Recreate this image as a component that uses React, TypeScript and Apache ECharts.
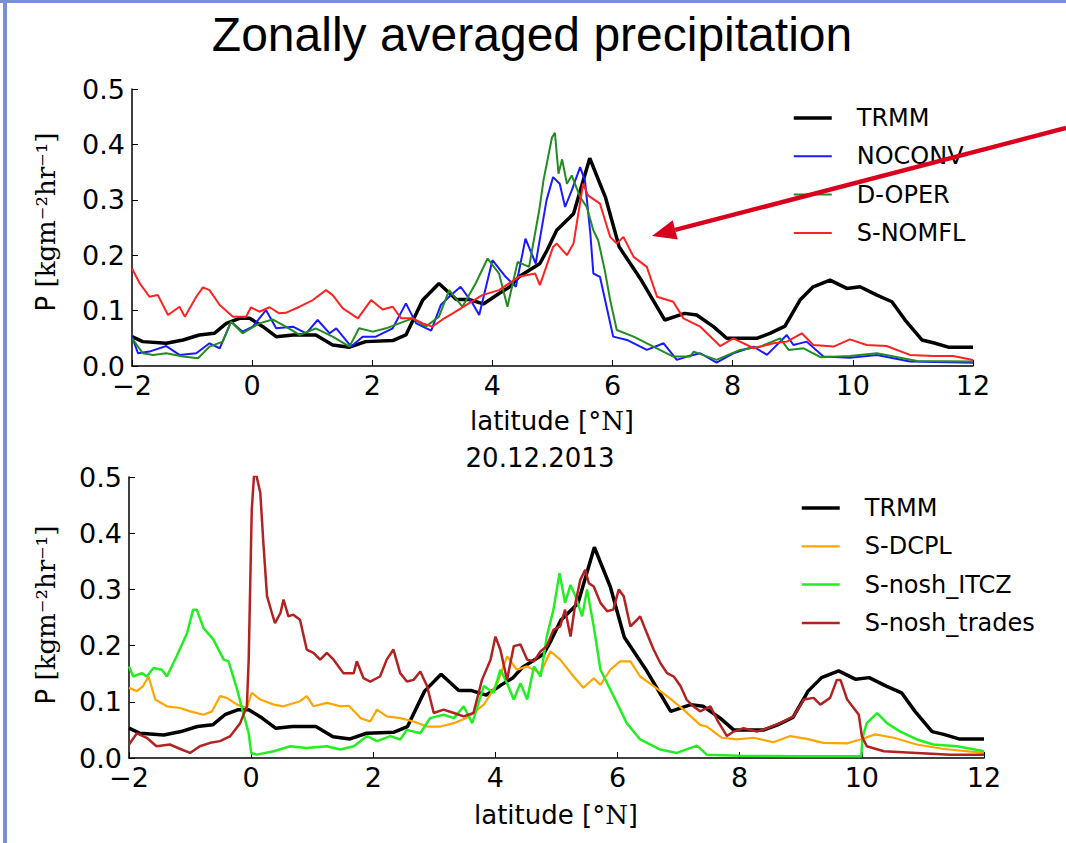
import React, { useEffect, useRef } from "react";
import * as echarts from "echarts";

const xTicks = [-2, 0, 2, 4, 6, 8, 10, 12];
const yTicks = [0, 0.1, 0.2, 0.3, 0.4, 0.5];

const trmm: number[][] = [[-2,0.053],[-1.82,0.044],[-1.43,0.041],[-1.15,0.047],[-0.88,0.056],[-0.63,0.059],[-0.43,0.077],[-0.21,0.086],[-0.04,0.086],[0.18,0.071],[0.4,0.053],[0.68,0.056],[1.06,0.056],[1.34,0.038],[1.62,0.034],[1.89,0.044],[2.34,0.046],[2.56,0.056],[2.84,0.119],[3.11,0.149],[3.4,0.12],[3.61,0.12],[3.85,0.112],[4.11,0.131],[4.29,0.143],[4.44,0.161],[4.66,0.176],[4.79,0.185],[4.91,0.209],[5.07,0.245],[5.35,0.275],[5.62,0.375],[5.88,0.305],[6.11,0.215],[6.46,0.158],[6.87,0.083],[7.2,0.095],[7.4,0.092],[7.68,0.071],[7.9,0.05],[8.4,0.05],[8.62,0.059],[8.87,0.072],[9.12,0.119],[9.34,0.143],[9.62,0.155],[9.9,0.14],[10.12,0.143],[10.4,0.128],[10.65,0.116],[10.87,0.083],[11.15,0.047],[11.34,0.042],[11.59,0.034],[12,0.034]];

const noconv: number[][] = [[-2,0.053],[-1.9,0.023],[-1.71,0.026],[-1.43,0.036],[-1.21,0.02],[-0.93,0.023],[-0.71,0.041],[-0.54,0.032],[-0.35,0.08],[-0.16,0.062],[0.01,0.071],[0.23,0.101],[0.4,0.068],[0.68,0.071],[0.9,0.059],[1.09,0.083],[1.29,0.059],[1.4,0.068],[1.65,0.035],[1.84,0.053],[2.06,0.053],[2.34,0.068],[2.56,0.113],[2.73,0.077],[2.98,0.064],[3.14,0.11],[3.28,0.125],[3.47,0.143],[3.67,0.113],[3.78,0.092],[4.0,0.191],[4.22,0.161],[4.39,0.143],[4.55,0.23],[4.72,0.185],[4.9,0.299],[5.01,0.341],[5.12,0.329],[5.21,0.287],[5.32,0.317],[5.46,0.359],[5.54,0.335],[5.63,0.239],[5.68,0.167],[5.79,0.161],[5.9,0.107],[6.01,0.053],[6.24,0.047],[6.57,0.029],[6.85,0.041],[7.07,0.011],[7.24,0.017],[7.46,0.023],[7.73,0.006],[8.01,0.023],[8.35,0.035],[8.57,0.02],[8.9,0.056],[9.01,0.038],[9.23,0.044],[9.51,0.017],[9.95,0.015],[10.4,0.02],[10.95,0.008],[12,0.006]];

const doper: number[][] = [[-2,0.05],[-1.82,0.023],[-1.65,0.02],[-1.43,0.023],[-1.15,0.017],[-0.9,0.014],[-0.71,0.035],[-0.49,0.044],[-0.35,0.08],[-0.16,0.059],[0.12,0.077],[0.34,0.084],[0.56,0.071],[0.79,0.056],[1.06,0.068],[1.34,0.053],[1.62,0.035],[1.78,0.068],[2.01,0.062],[2.23,0.068],[2.45,0.077],[2.67,0.086],[2.89,0.071],[3.11,0.089],[3.28,0.137],[3.5,0.107],[3.72,0.149],[3.92,0.194],[4.11,0.167],[4.25,0.107],[4.42,0.188],[4.61,0.179],[4.78,0.282],[4.85,0.335],[4.99,0.412],[5.04,0.421],[5.1,0.347],[5.16,0.373],[5.24,0.329],[5.32,0.344],[5.46,0.305],[5.57,0.287],[5.68,0.245],[5.76,0.227],[5.87,0.173],[5.96,0.119],[6.07,0.065],[6.35,0.053],[6.68,0.035],[7.01,0.017],[7.29,0.017],[7.35,0.026],[7.73,0.011],[8.12,0.029],[8.46,0.035],[8.79,0.05],[8.93,0.029],[9.18,0.032],[9.46,0.016],[9.95,0.018],[10.4,0.023],[11.07,0.009],[12,0.008]];

const snomfl: number[][] = [[-2,0.176],[-1.87,0.149],[-1.71,0.125],[-1.57,0.128],[-1.4,0.092],[-1.21,0.107],[-1.12,0.089],[-0.93,0.125],[-0.82,0.142],[-0.71,0.137],[-0.54,0.11],[-0.32,0.089],[-0.1,0.089],[-0.02,0.106],[0.12,0.098],[0.29,0.106],[0.45,0.095],[0.56,0.096],[0.79,0.107],[1.01,0.119],[1.23,0.137],[1.34,0.128],[1.51,0.104],[1.76,0.086],[1.98,0.119],[2.17,0.102],[2.34,0.107],[2.48,0.086],[2.67,0.086],[2.84,0.077],[3.0,0.071],[3.17,0.084],[3.34,0.095],[3.56,0.11],[3.83,0.128],[4.11,0.137],[4.44,0.161],[4.71,0.167],[4.79,0.146],[5.01,0.215],[5.07,0.221],[5.24,0.2],[5.35,0.221],[5.51,0.329],[5.59,0.308],[5.79,0.293],[5.96,0.233],[6.07,0.221],[6.18,0.233],[6.35,0.197],[6.57,0.179],[6.74,0.125],[7.01,0.116],[7.18,0.086],[7.46,0.071],[7.79,0.036],[8.01,0.05],[8.35,0.032],[8.68,0.041],[8.9,0.044],[9.15,0.059],[9.34,0.038],[9.68,0.035],[9.95,0.048],[10.23,0.038],[10.56,0.036],[10.95,0.02],[11.34,0.018],[11.67,0.018],[12,0.011]];

const sdcpl: number[][] = [[-2,0.125],[-1.87,0.119],[-1.77,0.128],[-1.68,0.145],[-1.57,0.104],[-1.38,0.092],[-1.16,0.089],[-1.0,0.083],[-0.78,0.077],[-0.64,0.083],[-0.51,0.11],[-0.4,0.107],[-0.23,0.095],[-0.07,0.089],[0.01,0.116],[0.15,0.104],[0.37,0.095],[0.53,0.092],[0.8,0.101],[0.91,0.11],[1.02,0.092],[1.24,0.098],[1.46,0.092],[1.6,0.093],[1.79,0.071],[1.95,0.065],[2.06,0.086],[2.22,0.074],[2.44,0.071],[2.66,0.065],[2.88,0.056],[3.1,0.056],[3.32,0.062],[3.54,0.072],[3.81,0.095],[4.03,0.133],[4.19,0.181],[4.35,0.157],[4.52,0.163],[4.74,0.151],[4.9,0.19],[5.06,0.175],[5.28,0.145],[5.44,0.125],[5.61,0.142],[5.72,0.13],[5.88,0.157],[6.04,0.172],[6.21,0.172],[6.37,0.145],[6.59,0.128],[6.81,0.11],[7.08,0.086],[7.35,0.059],[7.46,0.056],[7.71,0.036],[7.95,0.033],[8.23,0.036],[8.55,0.028],[8.83,0.039],[9.1,0.034],[9.37,0.027],[9.76,0.026],[9.97,0.033],[10.22,0.042],[10.52,0.036],[10.9,0.024],[11.34,0.016],[12,0.009]];

const noshItcz: number[][] = [[-2,0.163],[-1.93,0.145],[-1.79,0.151],[-1.71,0.145],[-1.6,0.16],[-1.46,0.157],[-1.38,0.145],[-1.22,0.181],[-1.05,0.222],[-0.95,0.264],[-0.89,0.264],[-0.78,0.231],[-0.62,0.211],[-0.45,0.175],[-0.37,0.172],[-0.23,0.122],[-0.13,0.08],[-0.04,0.044],[0.0,0.009],[0.09,0.006],[0.37,0.012],[0.64,0.021],[0.91,0.018],[1.24,0.021],[1.46,0.015],[1.68,0.021],[1.9,0.039],[2.06,0.03],[2.28,0.039],[2.44,0.033],[2.55,0.05],[2.77,0.044],[2.93,0.071],[3.15,0.077],[3.32,0.071],[3.48,0.092],[3.62,0.062],[3.81,0.128],[3.97,0.116],[4.08,0.157],[4.19,0.133],[4.3,0.104],[4.41,0.133],[4.52,0.104],[4.63,0.163],[4.74,0.145],[4.84,0.216],[4.95,0.264],[5.05,0.329],[5.14,0.276],[5.23,0.308],[5.31,0.288],[5.42,0.252],[5.5,0.3],[5.61,0.234],[5.72,0.157],[5.83,0.133],[5.99,0.098],[6.15,0.062],[6.37,0.033],[6.7,0.015],[6.97,0.009],[7.3,0.022],[7.46,0.006],[8.0,0.004],[9.0,0.003],[9.99,0.003],[10.01,0.036],[10.08,0.062],[10.25,0.08],[10.41,0.062],[10.63,0.047],[10.9,0.033],[11.17,0.024],[11.56,0.021],[12,0.012]];

const noshTrades: number[][] = [[-2,0.024],[-1.87,0.044],[-1.71,0.036],[-1.55,0.021],[-1.33,0.024],[-1.16,0.016],[-1.0,0.009],[-0.84,0.021],[-0.67,0.027],[-0.51,0.03],[-0.34,0.039],[-0.18,0.062],[-0.07,0.092],[-0.04,0.175],[0.01,0.442],[0.05,0.507],[0.09,0.501],[0.15,0.472],[0.2,0.383],[0.26,0.288],[0.34,0.258],[0.39,0.24],[0.48,0.258],[0.53,0.282],[0.61,0.252],[0.69,0.255],[0.8,0.246],[0.91,0.193],[1.02,0.187],[1.13,0.175],[1.24,0.187],[1.35,0.175],[1.51,0.151],[1.68,0.151],[1.73,0.172],[1.84,0.142],[1.95,0.136],[2.11,0.145],[2.22,0.175],[2.33,0.193],[2.44,0.151],[2.55,0.136],[2.66,0.139],[2.77,0.154],[2.88,0.128],[2.99,0.08],[3.15,0.086],[3.32,0.08],[3.48,0.074],[3.64,0.08],[3.78,0.139],[3.92,0.175],[4.0,0.216],[4.08,0.193],[4.19,0.139],[4.3,0.199],[4.41,0.202],[4.52,0.175],[4.63,0.172],[4.74,0.19],[4.84,0.199],[4.95,0.228],[5.06,0.234],[5.14,0.264],[5.23,0.216],[5.31,0.276],[5.39,0.317],[5.47,0.335],[5.53,0.311],[5.61,0.305],[5.72,0.276],[5.83,0.261],[5.93,0.264],[6.02,0.3],[6.1,0.288],[6.21,0.234],[6.32,0.246],[6.37,0.252],[6.48,0.222],[6.59,0.193],[6.7,0.169],[6.81,0.151],[6.92,0.145],[7.03,0.128],[7.13,0.104],[7.24,0.092],[7.35,0.083],[7.52,0.092],[7.63,0.068],[7.79,0.039],[7.9,0.047],[8.06,0.053],[8.28,0.047],[8.45,0.053],[8.66,0.062],[8.88,0.074],[9.05,0.104],[9.21,0.107],[9.32,0.095],[9.48,0.107],[9.59,0.139],[9.65,0.139],[9.76,0.104],[9.95,0.077],[10.0,0.039],[10.08,0.021],[10.36,0.012],[10.9,0.009],[11.45,0.006],[12,0.006]];

const topNames = ["TRMM", "NOCONV", "D-OPER", "S-NOMFL"];
const bottomNames = ["TRMM", "S-DCPL", "S-nosh_ITCZ", "S-nosh_trades"];

const SANS = "DejaVu Sans";

function makeX(gridIndex: number) {
  return {
    type: "value", gridIndex, min: xTicks[0], max: xTicks[xTicks.length - 1], interval: 2,
    axisLine: { show: true, onZero: false, lineStyle: { color: "#000", width: 1.5 } },
    axisTick: { show: true, inside: true, length: 6, lineStyle: { color: "#000", width: 1 } },
    axisLabel: { color: "#000", fontSize: 27, fontFamily: SANS, margin: 6,
      formatter: (v: number) => (v < 0 ? "\u2212" + Math.abs(v) : String(v)) },
    splitLine: { show: false },
  };
}
function makeY(gridIndex: number) {
  return {
    type: "value", gridIndex, min: yTicks[0], max: yTicks[yTicks.length - 1], interval: 0.1,
    axisLine: { show: true, onZero: false, lineStyle: { color: "#000", width: 1.5 } },
    axisTick: { show: true, inside: true, length: 6, lineStyle: { color: "#000", width: 1 } },
    axisLabel: { color: "#000", fontSize: 27, fontFamily: SANS, margin: 7,
      formatter: (v: number) => v.toFixed(1) },
    splitLine: { show: false },
  };
}
function line(name: string, data: number[][], color: string, width: number, idx: number) {
  return {
    type: "line", name, data, xAxisIndex: idx, yAxisIndex: idx, symbol: "none",
    lineStyle: { color, width }, itemStyle: { color }, z: 2,
  };
}

function legend(names: string[], left: number, top: number) {
  return {
    data: names, left, top, orient: "vertical", itemWidth: 38, itemHeight: 14, itemGap: 14.3,
    padding: 0, selectedMode: false,
    itemStyle: { opacity: 0, borderWidth: 0 },
    lineStyle: { width: "inherit" },
    textStyle: { fontSize: 24, fontFamily: SANS, color: "#000", lineHeight: 24, padding: [0, 0, 0, 20] },
  };
}

const yLabelText = "{a|P }{b|[kgm\u207B\u00B2hr\u207B\u00B9]}";
const yLabelRich = { a: { fontFamily: SANS, fontSize: 26, fill: "#000" }, b: { fontFamily: "DejaVu Serif", fontSize: 26, fill: "#000" } };
const xLabelText = "{a|latitude [}{b|\u00B0N}{a|]}";
const xLabelRich = { a: { fontFamily: SANS, fontSize: 26, fill: "#000" }, b: { fontFamily: "DejaVu Serif", fontSize: 26, fill: "#000" } };

export default function App() {
  const ref = useRef<HTMLDivElement>(null);
  useEffect(() => {
    if (!ref.current) return;
    const chart = echarts.init(ref.current, null, { renderer: "svg" });
    const arrowTip = [652, 236];
    const arrowStart = [1066, 128];
    const dx = arrowStart[0] - arrowTip[0], dy = arrowStart[1] - arrowTip[1];
    const L = Math.hypot(dx, dy), ux = dx / L, uy = dy / L;
    const hl = 24, hw = 10;
    const bx = arrowTip[0] + ux * hl, by = arrowTip[1] + uy * hl;
    chart.setOption({
      animation: false,
      backgroundColor: "#fff",
      grid: [
        { left: 132, top: 89, width: 841, height: 277 },
        { left: 129, top: 477, width: 855, height: 281 },
      ],
      xAxis: [makeX(0), makeX(1)],
      yAxis: [makeY(0), makeY(1)],
      legend: [legend(topNames, 792, 106), legend(bottomNames, 800, 496)],
      series: [
        line("TRMM", trmm, "#000000", 3.5, 0),
        line("NOCONV", noconv, "#1a1aff", 2, 0),
        line("D-OPER", doper, "#228b22", 2, 0),
        line("S-NOMFL", snomfl, "#ff2222", 2, 0),
        line("TRMM", trmm, "#000000", 3.5, 1),
        line("S-DCPL", sdcpl, "#ffa500", 2.2, 1),
        line("S-nosh_ITCZ", noshItcz, "#22ee22", 2.5, 1),
        line("S-nosh_trades", noshTrades, "#b22222", 2.5, 1),
      ],
      graphic: [
        { type: "rect", shape: { x: 0, y: 0, width: 1066, height: 3 }, style: { fill: "#7b8fd9" } },
        { type: "rect", shape: { x: 3, y: 0, width: 4, height: 843 }, style: { fill: "#7b8fd9" } },
        { type: "text", x: 532, y: 34, style: { text: "Zonally averaged precipitation", font: "48px 'Liberation Sans', Arial, sans-serif", fill: "#000", align: "center", verticalAlign: "middle" } },
        { type: "text", x: 46, y: 222, rotation: Math.PI / 2,
          style: { text: yLabelText, align: "center", verticalAlign: "middle", rich: yLabelRich } },
        { type: "text", x: 46, y: 615, rotation: Math.PI / 2,
          style: { text: yLabelText, align: "center", verticalAlign: "middle", rich: yLabelRich } },
        { type: "text", x: 552, y: 421,
          style: { text: xLabelText, align: "center", verticalAlign: "middle", rich: xLabelRich } },
        { type: "text", x: 556, y: 815,
          style: { text: xLabelText, align: "center", verticalAlign: "middle", rich: xLabelRich } },
        { type: "text", x: 540, y: 458, style: { text: "20.12.2013", font: "26px 'DejaVu Sans'", fill: "#000", align: "center", verticalAlign: "middle" } },
        { type: "line", z: 100, shape: { x1: arrowStart[0], y1: arrowStart[1], x2: bx, y2: by }, style: { stroke: "#d8001c", lineWidth: 4.5 } },
        { type: "polygon", z: 100, shape: { points: [arrowTip, [bx - uy * hw, by + ux * hw], [bx + uy * hw, by - ux * hw]] }, style: { fill: "#d8001c" } },
      ],
    });
    return () => chart.dispose();
  }, []);
  return <div ref={ref} style={{ position: "absolute", left: 0, top: 0, width: 1066, height: 843, background: "#fff" }} />;
}
